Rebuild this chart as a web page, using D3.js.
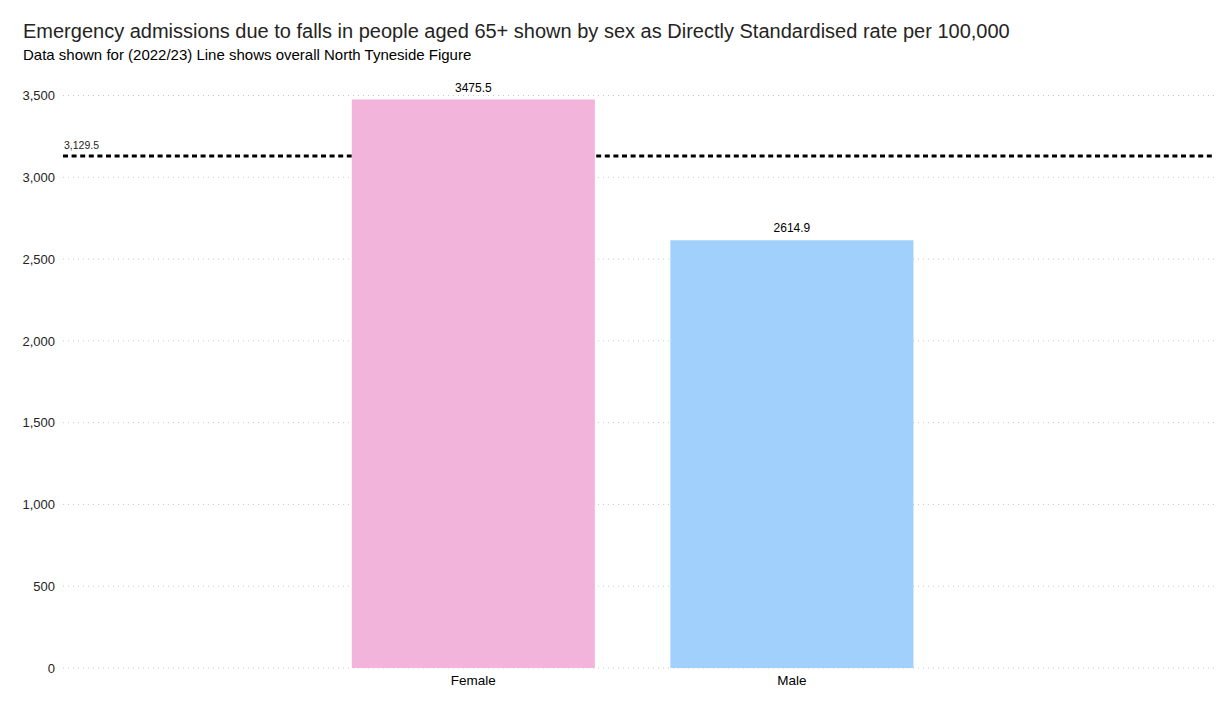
<!DOCTYPE html>
<html>
<head>
<meta charset="utf-8">
<script src="https://cdn.jsdelivr.net/npm/d3@7"></script>
<style>
  body { margin: 0; background: #fff; }
  svg { display: block; font-family: "Liberation Sans", Arial, sans-serif; }
</style>
</head>
<body>
<div id="chart"></div>
<script>
// Data
const categories = ['Female', 'Male'];
const rates = [3475.5, 2614.9];
const barColours = ['#F2B4DB', '#A2D0FD'];
const overallRate = 3129.5;
const yTicks = [0, 500, 1000, 1500, 2000, 2500, 3000, 3500];

const width = 1226;
const height = 709;
const plotLeft = 63;
const plotRight = 1214;
const plotTop = 95.5;
const plotBottom = 668;

const svg = d3.select('#chart')
  .append('svg')
  .attr('width', width)
  .attr('height', height);

// Title and subtitle
svg.append('text')
  .attr('x', 23)
  .attr('y', 38)
  .style('font-size', '20px')
  .style('fill', '#252423')
  .text('Emergency admissions due to falls in people aged 65+ shown by sex as Directly Standardised rate per 100,000');

svg.append('text')
  .attr('x', 23)
  .attr('y', 60)
  .style('font-size', '15px')
  .style('fill', '#000')
  .text('Data shown for (2022/23) Line shows overall North Tyneside Figure');

const x = d3.scaleBand()
  .domain(categories)
  .range([plotLeft, plotRight])
  .paddingInner(0.237)
  .paddingOuter(0.925)
  .align(0.49);

const y = d3.scaleLinear()
  .domain([0, 3500])
  .range([plotBottom, plotTop]);

// Gridlines
svg.append('g')
  .selectAll('line')
  .data(yTicks)
  .join('line')
  .attr('x1', plotLeft)
  .attr('x2', plotRight)
  .attr('y1', d => y(d))
  .attr('y2', d => y(d))
  .attr('stroke', '#c8c8c8')
  .attr('stroke-width', 1)
  .attr('stroke-dasharray', '1,4');

// Y axis
const yAxis = svg.append('g')
  .attr('transform', `translate(${plotLeft - 8},0)`)
  .call(d3.axisLeft(y).tickValues(yTicks).tickSize(0).tickPadding(0).tickFormat(d3.format(',')));
yAxis.select('.domain').remove();
yAxis.selectAll('text')
  .style('font-size', '13px')
  .style('fill', '#252423')
  .style('font-family', '"Liberation Sans", Arial, sans-serif');

// Overall reference line (behind bars)
svg.append('line')
  .attr('x1', plotLeft)
  .attr('x2', plotRight)
  .attr('y1', y(overallRate))
  .attr('y2', y(overallRate))
  .attr('stroke', '#000')
  .attr('stroke-width', 3)
  .attr('stroke-dasharray', '5,3.6');

svg.append('text')
  .attr('x', plotLeft + 1)
  .attr('y', y(overallRate) - 7)
  .style('font-size', '10.5px')
  .style('fill', '#252423')
  .text(d3.format(',.1f')(overallRate));

// Bars
svg.append('g')
  .selectAll('rect')
  .data(categories)
  .join('rect')
  .attr('x', d => x(d))
  .attr('width', x.bandwidth())
  .attr('y', (d, i) => y(rates[i]))
  .attr('height', (d, i) => y(0) - y(rates[i]))
  .attr('fill', (d, i) => barColours[i]);

// Value labels
svg.append('g')
  .selectAll('text')
  .data(categories)
  .join('text')
  .attr('x', d => x(d) + x.bandwidth() / 2)
  .attr('y', (d, i) => y(rates[i]) - 8)
  .attr('text-anchor', 'middle')
  .style('font-size', '12px')
  .style('fill', '#000')
  .text((d, i) => rates[i]);

// X axis
const xAxis = svg.append('g')
  .attr('transform', `translate(0,${plotBottom})`)
  .call(d3.axisBottom(x).tickSize(0).tickPadding(7));
xAxis.select('.domain').remove();
xAxis.selectAll('text')
  .style('font-size', '13.5px')
  .style('fill', '#000')
  .style('font-family', '"Liberation Sans", Arial, sans-serif');
</script>
</body>
</html>
